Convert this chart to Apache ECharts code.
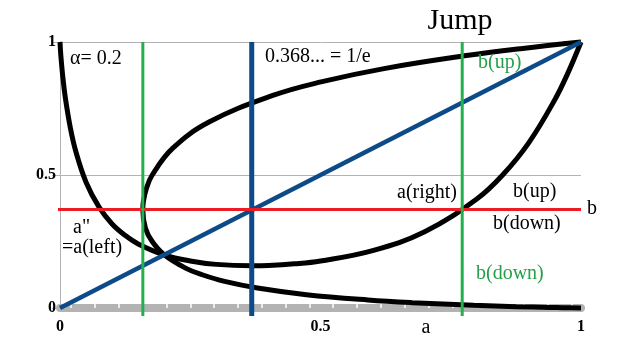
<!DOCTYPE html>
<html><head><meta charset="utf-8">
<script src="https://cdn.jsdelivr.net/npm/echarts@6/dist/echarts.min.js"></script>
<style>html,body{margin:0;padding:0;background:#fff}#c{width:622px;height:352px}</style>
</head><body><div id="c"></div>
<script>
// Curve b = a^(a/alpha) (bowl, alpha = 0.2)
const curve1A = [0, 0.001, 0.002, 0.005, 0.01, 0.02, 0.03, 0.05, 0.075, 0.1, 0.125, 0.15, 0.2, 0.25, 0.3, 0.368, 0.4, 0.45, 0.5, 0.6, 0.7, 0.8, 0.85, 0.9, 0.95, 0.975, 1];
const curve1B = [1, 0.966, 0.94, 0.876, 0.794, 0.676, 0.591, 0.473, 0.379, 0.316, 0.273, 0.241, 0.2, 0.177, 0.164, 0.159, 0.16, 0.166, 0.177, 0.216, 0.287, 0.41, 0.501, 0.622, 0.784, 0.884, 1];
// Loop curve b(up)/b(down)
const curve2A = [1, 0.966, 0.94, 0.876, 0.794, 0.676, 0.591, 0.473, 0.379, 0.316, 0.273, 0.241, 0.2, 0.177, 0.164, 0.159, 0.16, 0.166, 0.177, 0.216, 0.287, 0.41, 0.501, 0.622, 0.784, 0.884, 1];
const curve2B = [0, 0.001, 0.002, 0.005, 0.01, 0.02, 0.03, 0.05, 0.075, 0.1, 0.125, 0.15, 0.2, 0.25, 0.3, 0.368, 0.4, 0.45, 0.5, 0.6, 0.7, 0.8, 0.85, 0.9, 0.95, 0.975, 1];
const diagA = [0, 1];
const diagB = [0, 1];
const greenA = [0.159, 0.772];
const blueA = 0.368;
const redB = 0.37;
const vertSpan = [-0.03, 1];
const horSpan = [-0.01, 1];
const yTicks = [0, 0.5, 1];
const xTickMarks = [0.021, 0.067, 0.113, 0.158, 0.204, 0.250, 0.296, 0.341, 0.387, 0.433, 0.479, 0.524, 0.570, 0.616, 0.662, 0.707, 0.753, 0.799, 0.845, 0.890, 0.936, 0.982];

const pairs = (xs, ys) => xs.map((x, i) => [x, ys[i]]);
const SERIF = '"Liberation Serif", "DejaVu Serif", serif';
const GRAY = '#b3b3b3';
const BLUE = '#0d4a88';
const GREEN = '#22b14c';
const RED = '#ed1c24';

const chart = echarts.init(document.getElementById('c'), null, {renderer: 'canvas'});

function txt(text, x, y, size, color, align) {
  return {type: 'text', z: 100, style: {text: text, x: x, y: y, font: size + 'px ' + SERIF, fill: color || '#000',
    textAlign: align || 'left', align: align || 'left', textVerticalAlign: 'middle', verticalAlign: 'middle'}};
}

const series = [
  {type: 'line', data: pairs(curve1A, curve1B), smooth: 0.4, symbol: 'none', clip: false,
   lineStyle: {color: '#000', width: 5}, z: 2},
  {type: 'line', data: pairs(curve2A, curve2B), smooth: 0.4, symbol: 'none', clip: false,
   lineStyle: {color: '#000', width: 5}, z: 2},
  {type: 'line', data: pairs(diagA, diagB), symbol: 'none', clip: false,
   lineStyle: {color: BLUE, width: 4.5}, z: 3},
  {type: 'line', data: [[blueA, vertSpan[0]], [blueA, vertSpan[1]]], symbol: 'none', clip: false,
   lineStyle: {color: BLUE, width: 5}, z: 3},
  {type: 'line', data: [[horSpan[0], redB], [horSpan[1], redB]], symbol: 'none', clip: false,
   lineStyle: {color: RED, width: 3}, z: 4}
];
greenA.forEach(g => series.push({type: 'line', data: [[g, vertSpan[0]], [g, vertSpan[1]]], symbol: 'none', clip: false,
   lineStyle: {color: GREEN, width: 3}, z: 5}));

chart.setOption({
  animation: false,
  grid: {left: 60, right: 41, top: 42, bottom: 44, containLabel: false},
  xAxis: [
    {type: 'value', min: 0, max: 1, interval: 0.5, offset: 4,
     axisLine: {show: true, lineStyle: {color: GRAY, width: 8}},
     axisTick: {show: false}, splitLine: {show: false},
     axisLabel: {margin: 7, color: '#000', fontFamily: SERIF, fontWeight: 'bold', fontSize: 16,
       formatter: v => String(v)}},
    {type: 'value', min: 0, max: 1, position: 'bottom', offset: 6,
     axisLine: {show: false}, splitLine: {show: false}, axisLabel: {show: false},
     axisTick: {show: true, inside: true, length: 5, customValues: xTickMarks,
       lineStyle: {color: '#fff', width: 1.5}}}
  ],
  yAxis: [
    {type: 'value', min: 0, max: 1, interval: 0.5,
     axisLine: {show: true, lineStyle: {color: GRAY, width: 1}},
     axisTick: {show: true, length: 8, lineStyle: {color: GRAY}},
     splitLine: {show: true, lineStyle: {color: GRAY, width: 1}},
     axisLabel: {margin: 4, color: '#000', fontFamily: SERIF, fontWeight: 'bold', fontSize: 16,
       customValues: yTicks, formatter: v => String(v)}},
    {type: 'value', min: 0, max: 1, position: 'right',
     axisLine: {show: true, lineStyle: {color: GRAY, width: 1}},
     axisTick: {show: false}, axisLabel: {show: false}, splitLine: {show: false}}
  ],
  graphic: [
    txt('Jump', 460, 21, 30, '#000', 'center'),
    txt('\u03b1= 0.2', 70, 59, 20),
    txt('0.368... = 1/e', 265, 57, 20),
    txt('b(up)', 478, 63, 20, '#24a148'),
    txt('a(right)', 397, 193, 20),
    txt('b(up)', 513, 192, 20),
    txt('b', 587, 209, 20),
    txt('b(down)', 493, 224, 20),
    txt('b(down)', 476, 274, 20, '#24a148'),
    txt('a"', 73, 228, 20),
    txt('=a(left)', 62, 248, 20),
    txt('a', 426, 328, 20, '#000', 'center')
  ],
  series: series
});
</script></body></html>
